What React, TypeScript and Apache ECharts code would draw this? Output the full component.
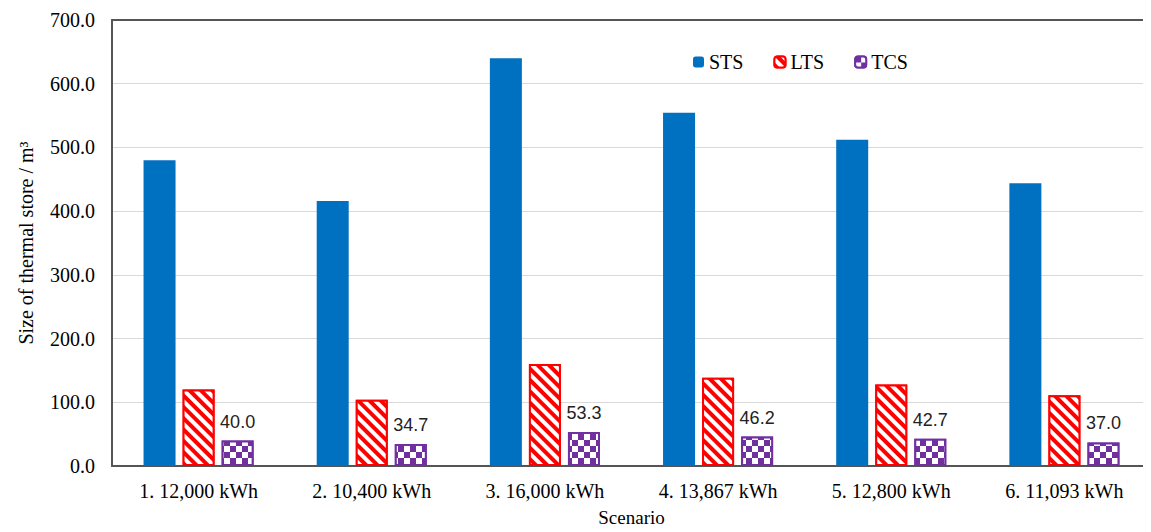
import React, { useEffect, useRef } from "react";
import * as echarts from "echarts";

const categories = ["1. 12,000 kWh", "2. 10,400 kWh", "3. 16,000 kWh", "4. 13,867 kWh", "5. 12,800 kWh", "6. 11,093 kWh"];
const stsValues = [480.0, 416.0, 640.0, 554.4, 512.0, 443.9];
const ltsValues = [120.0, 104.0, 160.0, 138.6, 128.0, 111.0];
const tcsValues = [40.0, 34.7, 53.3, 46.2, 42.7, 37.0];
const yTicks = { min: 0, max: 700, interval: 100 };

const serif = "Liberation Serif";

export default function App() {
  const ref = useRef<HTMLDivElement>(null);
  useEffect(() => {
    if (!ref.current) return;
    const chart = echarts.init(ref.current, undefined, { renderer: "svg" });
    chart.setOption({
      animation: false,
      backgroundColor: "#ffffff",
      grid: { left: 96, right: 0, top: 12, bottom: 61 },
      legend: {
        top: 39,
        left: 680,
        itemWidth: 11,
        itemHeight: 11,
        itemGap: 30,
        textStyle: { fontFamily: serif, fontSize: 20, color: "#000" },
        data: ["STS", "LTS", "TCS"],
      },
      xAxis: [
        {
          type: "category",
          data: categories,
          axisLine: { lineStyle: { color: "#555", width: 2 } },
          axisTick: { show: false },
          axisLabel: { fontFamily: serif, fontSize: 20, color: "#000", margin: 15 },
          name: "Scenario",
          nameLocation: "middle",
          nameGap: 42,
          nameTextStyle: { fontFamily: serif, fontSize: 19, color: "#000" },
        },
        {
          type: "category",
          position: "top",
          data: categories,
          axisLine: { lineStyle: { color: "#555", width: 2 } },
          axisTick: { show: false },
          axisLabel: { show: false },
        },
      ],
      yAxis: {
        type: "value",
        min: yTicks.min,
        max: yTicks.max,
        interval: yTicks.interval,
        axisLine: { show: true, lineStyle: { color: "#555", width: 2 } },
        axisTick: { show: false },
        splitLine: { lineStyle: { color: "#d9d9d9", width: 1 } },
        axisLabel: {
          fontFamily: serif,
          fontSize: 20,
          color: "#000",
          margin: 17,
          formatter: (v: number) => v.toFixed(1),
        },
        name: "Size of thermal store / m³",
        nameLocation: "middle",
        nameGap: 76,
        nameTextStyle: { fontFamily: serif, fontSize: 20, color: "#000" },
      },
      series: [
        {
          name: "STS",
          type: "bar",
          data: stsValues,
          barWidth: 32,
          barGap: "22%",
          itemStyle: { color: "#0070C0" },
        },
        {
          name: "LTS",
          type: "bar",
          data: ltsValues,
          barWidth: 32,
          barGap: "22%",
          itemStyle: {
            color: "#FF0000",
            borderColor: "#FF0000",
            borderWidth: 2,
            decal: {
              symbol: "rect",
              color: "#ffffff",
              dashArrayX: [1, 0],
              dashArrayY: [4, 4],
              rotation: Math.PI / 4,
              symbolSize: 1,
            },
          },
        },
        {
          name: "TCS",
          type: "bar",
          data: tcsValues,
          barWidth: 32,
          barGap: "22%",
          itemStyle: {
            color: "#7030A0",
            borderColor: "#7030A0",
            borderWidth: 2,
            decal: {
              symbol: "rect",
              color: "#ffffff",
              dashArrayX: [[6, 6], [0, 6, 6, 0]],
              dashArrayY: [6, 0],
              rotation: 0,
              symbolSize: 1,
            },
          },
          label: {
            show: true,
            position: "top",
            distance: 10,
            fontFamily: "Liberation Sans",
            fontSize: 18,
            color: "#222",
            formatter: (p: any) => Number(p.value).toFixed(1),
          },
        },
      ],
    });
    return () => chart.dispose();
  }, []);
  return <div ref={ref} style={{ width: 1143, height: 524 }} />;
}
